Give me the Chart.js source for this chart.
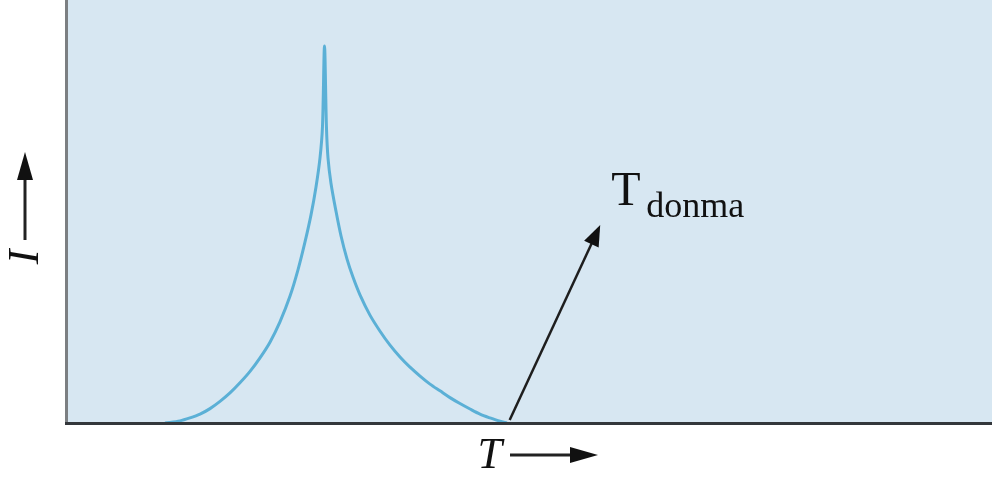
<!DOCTYPE html>
<html lang="tr">
<head>
  <meta charset="UTF-8">
  <title>Donma noktası</title>
  <script src="https://cdn.jsdelivr.net/npm/chart.js"></script>
  <style>
    html, body { margin: 0; padding: 0; background: #fff; }
    #wrap { width: 992px; height: 479px; }
  </style>
</head>
<body>
  <div id="wrap"><canvas id="grafik" width="992" height="479"></canvas></div>

  <script>
    // sıcaklık (T) ve şiddet (I) -- keyfi birimler, 0-100
    const sicaklik = [
      10.50, 12.12, 13.20, 14.29, 15.37, 16.45, 17.53, 18.61, 19.70, 20.78,
      21.86, 22.94, 24.03, 24.89, 25.65, 26.30, 26.84, 27.27, 27.54, 27.76,
      27.97, 28.14, 28.46, 29.00, 29.55, 30.19, 30.84, 31.60, 32.68, 33.77,
      34.85, 35.93, 37.01, 38.10, 39.18, 40.26, 41.34, 42.42, 43.51, 44.59,
      45.67, 46.75, 47.51
    ];
    const siddet = [
      0, 0.5, 1.2, 2.1, 3.4, 5.1, 7.1, 9.5, 12.2, 15.4,
      19.1, 23.9, 30.0, 36.2, 42.8, 49.2, 55.8, 62.6, 70.0, 89.1,
      70.0, 62.6, 56.7, 50.1, 44.2, 38.8, 34.5, 30.3, 25.5, 21.7,
      18.4, 15.6, 13.2, 11.1, 9.2, 7.6, 6.0, 4.6, 3.3, 2.1,
      1.2, 0.4, 0
    ];

    // donma noktası oku: başlangıç ve uç
    const okBaslangic = { x: 47.8, y: 0.7 };
    const okUc = { x: 57.6, y: 46.8 };
    const etiketAna = 'T';
    const etiketAlt = 'donma';

    const nokta = sicaklik.map((t, i) => ({ x: t, y: siddet[i] }));

    function okBasi(ctx, x1, y1, x2, y2, boy, gen) {
      const a = Math.atan2(y2 - y1, x2 - x1);
      ctx.beginPath();
      ctx.moveTo(x2, y2);
      ctx.lineTo(x2 - boy * Math.cos(a) + gen * Math.sin(a), y2 - boy * Math.sin(a) - gen * Math.cos(a));
      ctx.lineTo(x2 - boy * Math.cos(a) - gen * Math.sin(a), y2 - boy * Math.sin(a) + gen * Math.cos(a));
      ctx.closePath();
      ctx.fill();
    }

    const cizimler = {
      id: 'cizimler',
      beforeDraw(chart) {
        const { ctx, chartArea: a } = chart;
        ctx.save();
        ctx.fillStyle = '#d7e7f2';
        ctx.fillRect(a.left, a.top, a.right - a.left, a.bottom - a.top);
        ctx.restore();
      },
      afterDraw(chart) {
        const { ctx, chartArea: a, scales } = chart;
        ctx.save();

        // eksen çizgileri
        ctx.lineWidth = 3;
        ctx.strokeStyle = '#7c7f82';
        ctx.beginPath();
        ctx.moveTo(a.left - 1.5, a.top);
        ctx.lineTo(a.left - 1.5, a.bottom + 1);
        ctx.stroke();
        ctx.strokeStyle = '#33373b';
        ctx.beginPath();
        ctx.moveTo(a.left - 3, a.bottom + 0.5);
        ctx.lineTo(a.right, a.bottom + 0.5);
        ctx.stroke();

        // donma oku
        const x1 = scales.x.getPixelForValue(okBaslangic.x);
        const y1 = scales.y.getPixelForValue(okBaslangic.y);
        const x2 = scales.x.getPixelForValue(okUc.x);
        const y2 = scales.y.getPixelForValue(okUc.y);
        const uz = Math.hypot(x2 - x1, y2 - y1);
        ctx.strokeStyle = '#1e1e1e';
        ctx.fillStyle = '#111';
        ctx.lineWidth = 2.5;
        ctx.beginPath();
        ctx.moveTo(x1, y1);
        ctx.lineTo(x2 - 8 * (x2 - x1) / uz, y2 - 8 * (y2 - y1) / uz);
        ctx.stroke();
        okBasi(ctx, x1, y1, x2, y2, 21, 8);

        // T_donma etiketi
        ctx.fillStyle = '#111';
        ctx.textBaseline = 'alphabetic';
        ctx.textAlign = 'left';
        ctx.font = '48px "Liberation Serif"';
        ctx.fillText(etiketAna, x2 + 11, y2 - 20);
        ctx.font = '36px "Liberation Serif"';
        ctx.fillText(etiketAlt, x2 + 46, y2 - 8);

        // x ekseni: T →
        const yx = a.bottom + 32;
        ctx.font = 'italic 44px "Liberation Serif"';
        ctx.textAlign = 'right';
        ctx.fillText('T', 502, a.bottom + 45);
        ctx.lineWidth = 3;
        ctx.strokeStyle = '#222';
        ctx.beginPath();
        ctx.moveTo(510, yx);
        ctx.lineTo(580, yx);
        ctx.stroke();
        okBasi(ctx, 510, yx, 598, yx, 28, 8);

        // y ekseni: I ↑
        ctx.save();
        ctx.translate(38, 257);
        ctx.rotate(-Math.PI / 2);
        ctx.textAlign = 'center';
        ctx.font = 'italic 44px "Liberation Serif"';
        ctx.fillText('I', 0, 0);
        ctx.restore();
        ctx.beginPath();
        ctx.moveTo(25, 240);
        ctx.lineTo(25, 175);
        ctx.stroke();
        okBasi(ctx, 25, 240, 25, 152, 28, 8);

        ctx.restore();
      }
    };

    new Chart(document.getElementById('grafik'), {
      type: 'line',
      data: {
        datasets: [{
          data: nokta,
          borderColor: '#5bb0d6',
          borderWidth: 3,
          borderJoinStyle: 'round',
          pointRadius: 0,
          tension: 0.3,
          fill: false
        }]
      },
      options: {
        responsive: false,
        animation: false,
        events: [],
        layout: { padding: { left: 68, top: 0, right: 0, bottom: 56 } },
        scales: {
          x: { type: 'linear', min: 0, max: 100, display: false },
          y: { min: 0, max: 100, display: false }
        },
        plugins: {
          legend: { display: false },
          tooltip: { enabled: false }
        }
      },
      plugins: [cizimler]
    });
  </script>
</body>
</html>
